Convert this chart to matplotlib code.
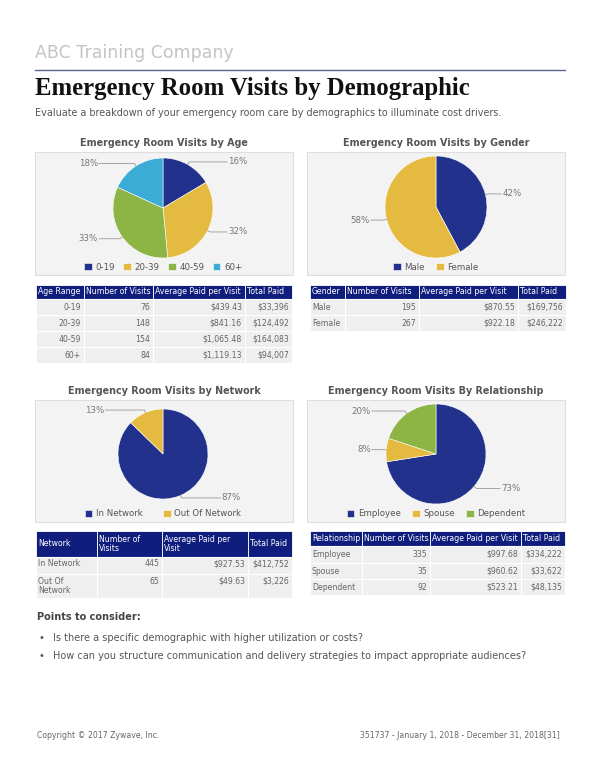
import textwrap
import numpy as np
import matplotlib
matplotlib.use("Agg")
import matplotlib.pyplot as plt
from matplotlib.patches import Rectangle

W, H = 600, 776

age_ranges = ['0-19', '20-39', '40-59', '60+']
age_visits = [76, 148, 154, 84]
age_avg_paid = [439.43, 841.16, 1065.48, 1119.13]
age_total_paid = [33396, 124492, 164083, 94007]

genders = ['Male', 'Female']
gender_visits = [195, 267]
gender_avg_paid = [870.55, 922.18]
gender_total_paid = [169756, 246222]

networks = ['In Network', 'Out Of Network']
network_visits = [445, 65]
network_avg_paid = [927.53, 49.63]
network_total_paid = [412752, 3226]

relationships = ['Employee', 'Spouse', 'Dependent']
rel_visits = [335, 35, 92]
rel_avg_paid = [997.68, 960.62, 523.21]
rel_total_paid = [334222, 33622, 48135]

NAVY = '#22318b'
YELLOW = '#e4bb40'
GREEN = '#8cb546'
CYAN = '#3aacd5'
HEAD = '#0f1d7d'
GREY_TXT = '#555555'

fig = plt.figure(figsize=(W / 100, H / 100), dpi=100)
bg = fig.add_axes([0, 0, 1, 1])
bg.set_xlim(0, W)
bg.set_ylim(H, 0)
bg.axis('off')

# header
bg.text(35, 53, 'ABC Training Company', fontsize=12.5, color='#c4c4c4', va='center')
bg.plot([35, 565], [70, 70], color='#5c6488', lw=1)
bg.text(35, 89, 'Emergency Room Visits by Demographic', family='Liberation Serif',
        fontweight='bold', fontsize=17.8, color='#111111', va='center')
bg.text(35, 113, 'Evaluate a breakdown of your emergency room care by demographics to illuminate cost drivers.',
        fontsize=6.9, color=GREY_TXT, va='center')


def pie_chart(title, labels, values, colors, panel, cx, cy, r, legend_y, spacing):
    x0, y0, x1, y1 = panel
    bg.add_patch(Rectangle((x0, y0), x1 - x0, y1 - y0, facecolor='#f3f3f3',
                           edgecolor='#dedede', lw=0.8))
    bg.text((x0 + x1) / 2, y0 - 9, title, fontsize=6.9, fontweight='bold',
            color=GREY_TXT, ha='center', va='center')
    ax = fig.add_axes([(cx - 1.6 * r) / W, 1 - (cy + 1.6 * r) / H, 3.2 * r / W, 3.2 * r / H])
    wedges, _ = ax.pie(values, colors=colors, startangle=90, counterclock=False,
                       radius=1, wedgeprops=dict(linewidth=0.4, edgecolor='white'))
    ax.set_xlim(-1.6, 1.6)
    ax.set_ylim(-1.6, 1.6)
    ax.set_aspect('equal')
    ax.axis('off')
    total = sum(values)
    for w, v in zip(wedges, values):
        ang = np.deg2rad((w.theta1 + w.theta2) / 2)
        x, y = np.cos(ang), np.sin(ang)
        side = 1 if x >= 0 else -1
        ax.plot([x, x * 1.06, side * 1.28], [y, y * 1.06, y * 1.06],
                color='#999999', lw=0.6, clip_on=False)
        ax.text(side * 1.3, y * 1.06, f'{round(100 * v / total)}%', fontsize=6.2,
                color='#777777', ha='left' if side > 0 else 'right', va='center')
    ax.legend(wedges, labels, loc='center', bbox_to_anchor=(cx / W, 1 - legend_y / H),
              bbox_transform=fig.transFigure, ncol=len(labels), frameon=False,
              fontsize=6.2, labelcolor=GREY_TXT, handlelength=0.9, handleheight=0.9,
              handletextpad=0.4, columnspacing=spacing)


def draw_table(xs, ys, header, rows, first_align, wrap=None, valign='center'):
    for j, h in enumerate(header):
        bg.add_patch(Rectangle((xs[j], ys[0]), xs[j + 1] - xs[j], ys[1] - ys[0],
                               facecolor=HEAD, edgecolor='white', lw=0.6))
        txt = textwrap.fill(h, wrap[j]) if wrap else h
        bg.text(xs[j] + 2, (ys[0] + ys[1]) / 2, txt, fontsize=5.6, color='white',
                va='center', ha='left', linespacing=1.1)
    for i, row in enumerate(rows):
        top, bot = ys[i + 1], ys[i + 2]
        for j, cell in enumerate(row):
            bg.add_patch(Rectangle((xs[j], top), xs[j + 1] - xs[j], bot - top,
                                   facecolor='#efefef', edgecolor='white', lw=0.8))
            align = first_align if j == 0 else 'right'
            tx = xs[j] + 2 if align == 'left' else xs[j + 1] - 3
            txt = textwrap.fill(cell, 10) if (wrap and j == 0) else cell
            ty = (top + bot) / 2 if valign == 'center' else top + 2.5
            bg.text(tx, ty, txt, fontsize=5.6, color='#666666', ha=align,
                    va=valign, linespacing=1.1)


def table_rows(cats, visits, avg, total):
    return [[c, str(v), f'${a:,.2f}', f'${t:,.0f}'] for c, v, a, t in zip(cats, visits, avg, total)]


cols = ['Number of Visits', 'Average Paid per Visit', 'Total Paid']

pie_chart('Emergency Room Visits by Age', age_ranges, age_visits,
          [NAVY, YELLOW, GREEN, CYAN], (35, 152, 293, 275), 163, 208, 50, 267, 1.0)
pie_chart('Emergency Room Visits by Gender', genders, gender_visits,
          [NAVY, YELLOW], (307, 152, 565, 275), 436, 207, 51, 267, 1.3)
pie_chart('Emergency Room Visits by Network', networks, network_visits,
          [NAVY, YELLOW], (35, 400, 293, 522), 163, 454, 45, 514, 2.4)
pie_chart('Emergency Room Visits By Relationship', relationships, rel_visits,
          [NAVY, YELLOW, GREEN], (307, 400, 565, 522), 436, 454, 50, 514, 1.3)

draw_table([36, 84, 153, 245, 292], [285, 299, 315, 331, 347, 363],
           ['Age Range'] + cols, table_rows(age_ranges, age_visits, age_avg_paid, age_total_paid), 'right')
draw_table([310, 345, 419, 518, 566], [285, 299, 315, 331],
           ['Gender'] + cols, table_rows(genders, gender_visits, gender_avg_paid, gender_total_paid), 'left')
draw_table([36, 97, 162, 248, 292], [531, 557, 574, 598],
           ['Network'] + cols, table_rows(networks, network_visits, network_avg_paid, network_total_paid),
           'left', wrap=[10, 10, 17, 12], valign='top')
draw_table([310, 362, 430, 521, 565], [531, 546, 563, 579, 595],
           ['Relationship'] + cols, table_rows(relationships, rel_visits, rel_avg_paid, rel_total_paid), 'left')

# points to consider
bg.text(37, 617, 'Points to consider:', fontsize=7, fontweight='bold', color='#444444', va='center')
points = ['Is there a specific demographic with higher utilization or costs?',
          'How can you structure communication and delivery strategies to impact appropriate audiences?']
for k, p in enumerate(points):
    bg.text(39, 638 + 18 * k, '•', fontsize=7, color='#555555', va='center')
    bg.text(53, 638 + 18 * k, p, fontsize=7, color=GREY_TXT, va='center')

# footer
bg.text(37, 735, 'Copyright © 2017 Zywave, Inc.', fontsize=5.6, color='#666666', va='center')
bg.text(560, 735, '351737 - January 1, 2018 - December 31, 2018[31]', fontsize=5.6,
        color='#666666', va='center', ha='right')

fig.savefig('out.png', dpi=100)
